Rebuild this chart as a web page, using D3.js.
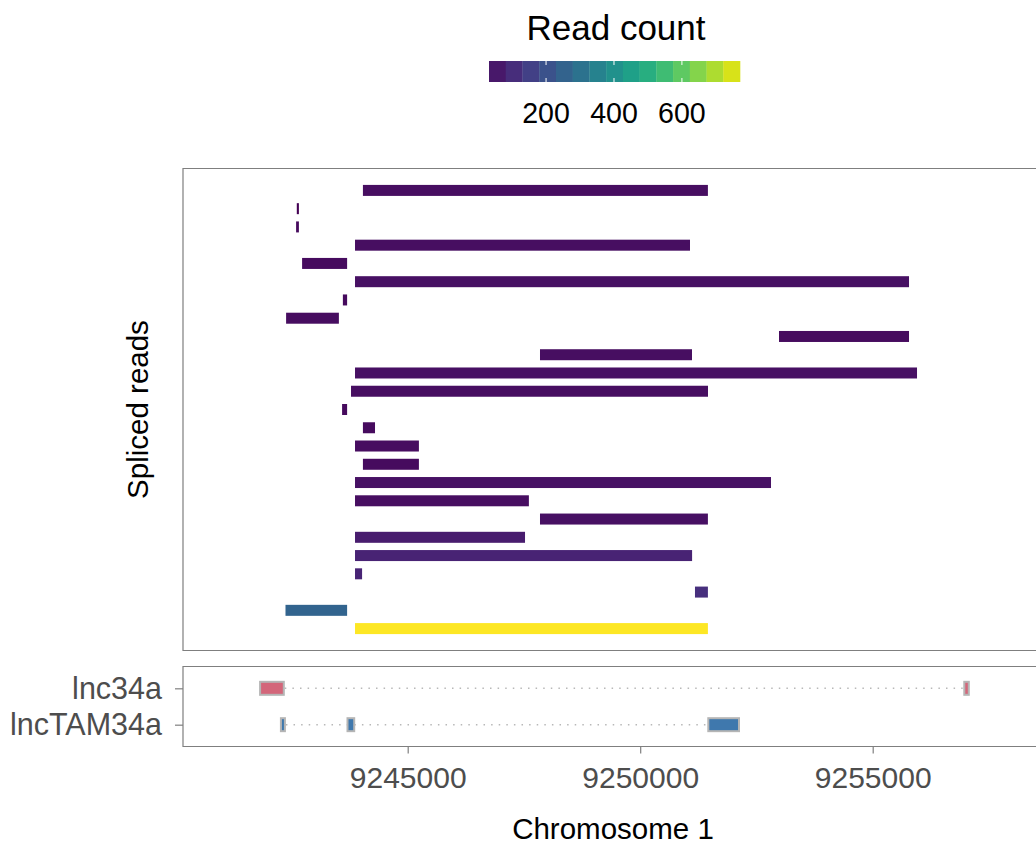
<!DOCTYPE html>
<html>
<head>
<meta charset="utf-8">
<script src="https://cdn.jsdelivr.net/npm/d3@7"></script>
<style>
  body { margin: 0; background: #fff; }
  svg { display: block; font-family: "Liberation Sans", Arial, Helvetica, sans-serif; }
</style>
</head>
<body>
<svg id="chart" width="1036" height="848"></svg>
<script>
// spliced reads, top to bottom
var junctionStart = [9244037, 9242615, 9242600, 9243867, 9242729, 9243867, 9243606, 9242385, 9252985, 9247845,
                     9243867, 9243781, 9243589, 9244037, 9243867, 9244037, 9243867, 9243867, 9247845, 9243867,
                     9243867, 9243867, 9251178, 9242372, 9243867];
var junctionEnd   = [9251456, 9242660, 9242660, 9251071, 9243697, 9255781, 9243697, 9243520, 9255781, 9251114,
                     9255953, 9251458, 9243697, 9244297, 9245241, 9245241, 9252813, 9247606, 9251456, 9247523,
                     9251116, 9244019, 9251456, 9243697, 9251456];
var readCount     = [58, 33, 52, 60, 55, 62, 50, 57, 54, 58,
                     63, 60, 52, 54, 57, 55, 64, 58, 61, 88,
                     104, 106, 132, 268, 771];

// transcripts and exons
var transcripts = ['lnc34a', 'lncTAM34a'];
var exonTranscript = ['lnc34a', 'lnc34a', 'lncTAM34a', 'lncTAM34a', 'lncTAM34a'];
var exonStart = [9241804, 9256948, 9242252, 9243684, 9251443];
var exonEnd   = [9242357, 9257088, 9242381, 9243871, 9252146];
var transcriptColor = { 'lnc34a': '#d3667a', 'lncTAM34a': '#3f78ad' };

var xTicks = [9245000, 9250000, 9255000];
var legendTicks = [200, 400, 600];
var countRange = [32, 771];
var nBins = 15;

var svg = d3.select('#chart');

var panelLeft = 183, panelRight = 1050;
var topPanel = { top: 168.5, bottom: 650.5 };
var botPanel = { top: 666.5, bottom: 746.5 };

var x = d3.scaleLinear()
  .domain([9245000 + (panelLeft - 407.7) / 0.0465, 9245000 + (panelRight - 407.7) / 0.0465])
  .range([panelLeft, panelRight]);

// continuous y with 5% expansion like ggplot
var nRows = readCount.length;
var ySpan = (nRows - 1) * 0.05;
var y = d3.scaleLinear()
  .domain([1 - ySpan, nRows + ySpan])
  .range([topPanel.top, topPanel.bottom]);

var colour = d3.scaleSequential(d3.interpolateViridis).domain(countRange);

// ---- top panel: junction reads
var reads = readCount.map(function(c, i) {
  return { start: junctionStart[i], end: junctionEnd[i], count: c, row: i + 1 };
});

svg.append('g').selectAll('rect')
  .data(reads)
  .enter().append('rect')
    .attr('x', function(d) { return x(d.start); })
    .attr('width', function(d) { return x(d.end) - x(d.start); })
    .attr('y', function(d) { return y(d.row) - 5.5; })
    .attr('height', 11)
    .attr('fill', function(d) { return colour(d.count); });

svg.append('path')
  .attr('d', 'M' + panelRight + ',' + topPanel.top + 'H' + panelLeft + 'V' + topPanel.bottom + 'H' + panelRight)
  .attr('fill', 'none')
  .attr('stroke', '#7f7f7f')
  .attr('stroke-width', 1.2);

svg.append('text')
  .attr('transform', 'translate(148,' + ((topPanel.top + topPanel.bottom) / 2) + ') rotate(-90)')
  .attr('text-anchor', 'middle')
  .attr('font-size', 29.5)
  .attr('fill', '#000')
  .text('Spliced reads');

// ---- bottom panel: transcript models
var yT = d3.scalePoint()
  .domain(transcripts)
  .range([botPanel.top, botPanel.bottom])
  .padding(0.6);

var trGroup = svg.append('g');
transcripts.forEach(function(t) {
  var s = [], e = [];
  exonTranscript.forEach(function(et, i) {
    if (et === t) { s.push(exonStart[i]); e.push(exonEnd[i]); }
  });
  trGroup.append('line')
    .attr('x1', x(d3.min(e)))
    .attr('x2', x(d3.max(s)))
    .attr('y1', yT(t))
    .attr('y2', yT(t))
    .attr('stroke', '#b8b8b8')
    .attr('stroke-width', 1.5)
    .attr('stroke-dasharray', '1.5,6.1');
});

var exons = exonStart.map(function(s, i) {
  return { start: s, end: exonEnd[i], tr: exonTranscript[i] };
});

trGroup.selectAll('rect')
  .data(exons)
  .enter().append('rect')
    .attr('x', function(d) { return x(d.start) + 1; })
    .attr('width', function(d) { return Math.max(x(d.end) - x(d.start) - 2, 1.5); })
    .attr('y', function(d) { return yT(d.tr) - 6.5; })
    .attr('height', 13)
    .attr('fill', function(d) { return transcriptColor[d.tr]; })
    .attr('stroke', '#b5b5b5')
    .attr('stroke-width', 2);

svg.append('path')
  .attr('d', 'M' + panelRight + ',' + botPanel.top + 'H' + panelLeft + 'V' + botPanel.bottom + 'H' + panelRight)
  .attr('fill', 'none')
  .attr('stroke', '#7f7f7f')
  .attr('stroke-width', 1.2);

var yAxis = d3.axisLeft(yT).tickSize(8).tickPadding(13);
var yAxisG = svg.append('g')
  .attr('transform', 'translate(' + panelLeft + ',0)')
  .call(yAxis);
yAxisG.select('.domain').remove();
yAxisG.selectAll('.tick line').attr('stroke', '#7f7f7f').attr('stroke-width', 1.2);
yAxisG.selectAll('.tick text')
  .attr('font-size', 30.5)
  .attr('fill', '#4d4d4d')
  .attr('font-family', '"Liberation Sans", Arial, sans-serif');

var xAxis = d3.axisBottom(x).tickValues(xTicks).tickFormat(d3.format('d')).tickSize(7);
var xAxisG = svg.append('g')
  .attr('transform', 'translate(0,' + botPanel.bottom + ')')
  .call(xAxis);
xAxisG.select('.domain').remove();
xAxisG.selectAll('.tick line').attr('stroke', '#7f7f7f').attr('stroke-width', 1.2);
xAxisG.selectAll('.tick text')
  .attr('font-size', 30)
  .attr('fill', '#4d4d4d')
  .attr('y', 41)
  .attr('dy', 0)
  .attr('font-family', '"Liberation Sans", Arial, sans-serif');

svg.append('text')
  .attr('x', 613)
  .attr('y', 839)
  .attr('text-anchor', 'middle')
  .attr('font-size', 29.5)
  .attr('fill', '#000')
  .text('Chromosome 1');

// ---- legend (colour steps)
var legX = d3.scaleLinear().domain(countRange).range([489, 740]);
var binW = (countRange[1] - countRange[0]) / nBins;
var bins = d3.range(nBins).map(function(i) {
  return { lo: countRange[0] + i * binW, hi: countRange[0] + (i + 1) * binW, c: d3.interpolateViridis((i + 1) / (nBins + 1)) };
});

var leg = svg.append('g');
leg.selectAll('rect')
  .data(bins)
  .enter().append('rect')
    .attr('x', function(d) { return legX(d.lo); })
    .attr('width', function(d) { return legX(d.hi) - legX(d.lo) + 0.3; })
    .attr('y', 61)
    .attr('height', 21)
    .attr('fill', function(d) { return d.c; });

legendTicks.forEach(function(t) {
  leg.append('line').attr('x1', legX(t)).attr('x2', legX(t)).attr('y1', 61).attr('y2', 65)
    .attr('stroke', '#fff').attr('stroke-width', 1);
  leg.append('line').attr('x1', legX(t)).attr('x2', legX(t)).attr('y1', 78).attr('y2', 82)
    .attr('stroke', '#fff').attr('stroke-width', 1);
  leg.append('text')
    .attr('x', legX(t))
    .attr('y', 123)
    .attr('text-anchor', 'middle')
    .attr('font-size', 28.6)
    .attr('fill', '#000')
    .text(t);
});

leg.append('text')
  .attr('x', 616)
  .attr('y', 40)
  .attr('text-anchor', 'middle')
  .attr('font-size', 35)
  .attr('fill', '#000')
  .text('Read count');
</script>
</body>
</html>
